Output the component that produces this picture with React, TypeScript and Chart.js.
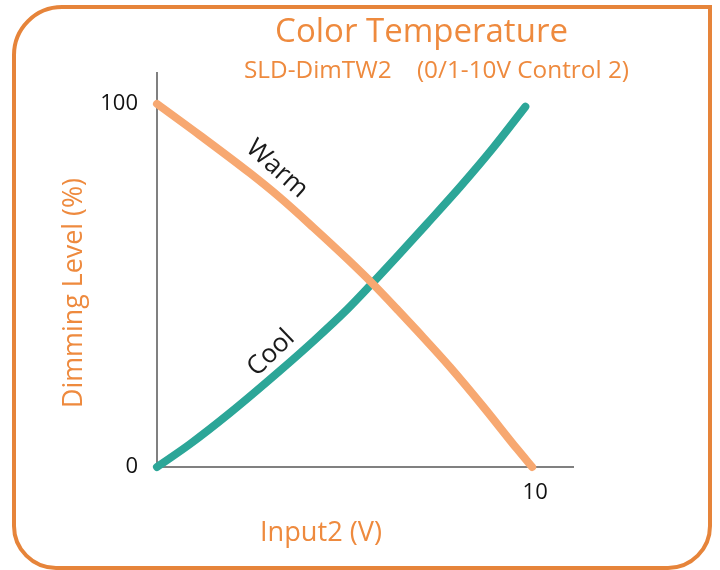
import React, { useEffect, useRef } from "react";
import { Chart, registerables } from "chart.js";

Chart.register(...registerables);

// ---- data ----
const warmX = [0, 1.14, 2.46, 3.25, 4.13, 5.03, 5.71, 6.38, 6.88, 7.75, 8.62, 9.52, 9.92];
const warmY = [100, 91.3, 80.9, 74.2, 66.0, 57.3, 50.4, 43.1, 37.5, 27.5, 16.7, 5.0, 0];
const coolX = [0, 0.87, 1.93, 3.25, 4.13, 5.03, 5.63, 6.38, 7.14, 8.02, 8.89, 9.74];
const coolY = [0, 6.3, 14.9, 26.5, 34.6, 43.4, 49.9, 58.3, 67.0, 77.2, 87.9, 99.2];
const yTickValues = [0, 100];
const xTickValues = [10];
const seriesNames = ["Warm", "Cool"];
const titleText = "Color Temperature";
const subtitleText = "SLD-DimTW2    (0/1-10V Control 2)";
const yTitleText = "Dimming Level (%)";
const xTitleText = "Input2 (V)";

const FONT = "'Open Sans', sans-serif";
const ORANGE = "#EE8A3E";
const FRAME = "#E6843A";
const WARM = "#F7A871";
const COOL = "#2CA698";
const AXIS = "#808080";

function fitText(
  ctx: CanvasRenderingContext2D,
  text: string,
  cx: number,
  by: number,
  targetW: number,
  color: string,
  rot = 0
) {
  ctx.save();
  ctx.font = `100px ${FONT}`;
  const w = ctx.measureText(text).width;
  const size = (100 * targetW) / w;
  ctx.font = `${size}px ${FONT}`;
  ctx.translate(cx, by);
  ctx.rotate(rot);
  ctx.textAlign = "center";
  ctx.textBaseline = "alphabetic";
  ctx.fillStyle = color;
  ctx.fillText(text, 0, 0);
  ctx.restore();
}

function curveLabel(ctx: CanvasRenderingContext2D, text: string, cx: number, cy: number, deg: number) {
  ctx.save();
  ctx.fillStyle = "#1a1a1a";
  ctx.font = `26px ${FONT}`;
  ctx.textAlign = "center";
  ctx.textBaseline = "middle";
  ctx.translate(cx, cy);
  ctx.rotate((deg * Math.PI) / 180);
  ctx.fillText(text, 0, 0);
  ctx.restore();
}

const decorPlugin = {
  id: "decor",
  afterDraw(chart: any) {
    const ctx: CanvasRenderingContext2D = chart.ctx;
    // frame
    ctx.save();
    ctx.strokeStyle = FRAME;
    ctx.lineWidth = 4;
    ctx.beginPath();
    (ctx as any).roundRect(14, 7, 696, 561, [48, 0, 42, 42]);
    ctx.stroke();
    ctx.restore();

    fitText(ctx, titleText, 421.5, 42, 293, ORANGE);
    fitText(ctx, subtitleText, 436.5, 78, 385, ORANGE);
    fitText(ctx, yTitleText, 82, 293, 230, ORANGE, -Math.PI / 2);
    fitText(ctx, xTitleText, 321, 541, 122, ORANGE);

    curveLabel(ctx, seriesNames[0], 277, 169, 42);
    curveLabel(ctx, seriesNames[1], 271, 353, -44);
  },
};

export default function App() {
  const ref = useRef<HTMLCanvasElement>(null);
  useEffect(() => {
    const tickFont = { family: FONT, size: 22 };
    const lineStyle = {
      showLine: true,
      borderWidth: 8,
      pointRadius: 0,
      pointHoverRadius: 0,
      cubicInterpolationMode: "monotone",
      borderCapStyle: "round",
      borderJoinStyle: "round",
      clip: false,
    };
    const chart = new Chart(ref.current as HTMLCanvasElement, {
      type: "scatter",
      data: {
        datasets: [
          {
            ...lineStyle,
            label: seriesNames[0],
            data: warmX.map((x, i) => ({ x, y: warmY[i] })),
            borderColor: WARM,
            backgroundColor: WARM,
          } as any,
          {
            ...lineStyle,
            label: seriesNames[1],
            data: coolX.map((x, i) => ({ x, y: coolY[i] })),
            borderColor: COOL,
            backgroundColor: COOL,
          } as any,
        ],
      },
      options: {
        responsive: false,
        animation: false,
        devicePixelRatio: 1,
        events: [],
        layout: { padding: { top: 73, right: 147, left: 0, bottom: 0 } },
        plugins: {
          legend: { display: false },
          title: { display: false },
          tooltip: { enabled: false },
        },
        scales: {
          x: {
            type: "linear",
            min: 0,
            max: 11,
            grid: { display: false, drawTicks: false },
            border: { display: true, color: AXIS, width: 2 },
            ticks: { padding: 13, color: "#111", font: tickFont },
            afterBuildTicks: (s: any) => {
              s.ticks = xTickValues.map((v) => ({ value: v }));
            },
            afterFit: (s: any) => {
              s.height = 103;
            },
          },
          y: {
            type: "linear",
            min: 0,
            max: 108.5,
            grid: { display: false, drawTicks: false },
            border: { display: true, color: AXIS, width: 2 },
            ticks: { padding: 19, color: "#111", font: tickFont },
            afterBuildTicks: (s: any) => {
              s.ticks = yTickValues.map((v) => ({ value: v }));
            },
            afterFit: (s: any) => {
              s.width = 157;
            },
          },
        },
      } as any,
      plugins: [decorPlugin],
    });
    return () => chart.destroy();
  }, []);
  return (
    <div style={{ position: "absolute", left: 0, top: 0, width: 720, height: 570, background: "#fff" }}>
      <canvas ref={ref} width={720} height={570} style={{ display: "block", width: 720, height: 570 }} />
    </div>
  );
}
